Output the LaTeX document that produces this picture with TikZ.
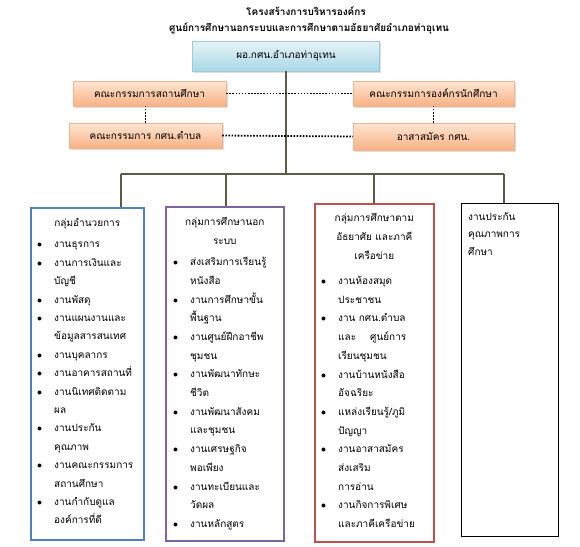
\documentclass[tikz,border=0pt]{standalone}
\usepackage{fontspec}
\setmainfont{Loma}[Script=Thai]
\usetikzlibrary{positioning, shadows}

\definecolor{linkgray}{HTML}{5E5A4A}
\definecolor{orgtop}{HTML}{FDE6D3}
\definecolor{orgbot}{HTML}{F8B184}
\definecolor{orgedge}{HTML}{EFB48C}
\definecolor{dirtop}{HTML}{E6F3F7}
\definecolor{dirbot}{HTML}{A9D8E7}
\definecolor{diredge}{HTML}{9DCADA}
\definecolor{grpblue}{HTML}{4F81BD}
\definecolor{grppurple}{HTML}{8064A2}
\definecolor{grpred}{HTML}{C0504D}

\newlength{\grpindent}
\setlength{\grpindent}{17pt}
\newcommand{\grpitem}[1]{\makebox[\grpindent][l]{$\bullet$}#1}
\newcommand{\grpcont}[1]{\hspace*{\grpindent}#1}

\tikzset{
  boardbox/.style={draw=orgedge, top color=orgtop, bottom color=orgbot,
    drop shadow={shadow xshift=1.5pt, shadow yshift=-1.5pt, opacity=0.25},
    minimum height=25pt, inner sep=0pt, font=\fontsize{10}{12}\selectfont},
  grpbox/.style={draw, line width=1.6pt, inner sep=0pt, anchor=north west},
  grptitle/.style={align=center, inner sep=0pt, font=\fontsize{10}{19}\selectfont},
  grplist/.style={align=left, inner sep=0pt, font=\fontsize{10}{18.7}\selectfont},
  link/.style={draw=linkgray, line width=1.1pt},
  dotlink/.style={line width=1.8pt, dash pattern=on 1.6pt off 1.5pt}
}

\begin{document}
\begin{tikzpicture}[x=1pt, y=-1pt]
  \useasboundingbox (0,0) rectangle (580,546);

  % Titles
  \node[font=\bfseries\fontsize{10}{12}\selectfont] (title) at (306,11) {โครงสร้างการบริหารองค์กร};
  \node[font=\bfseries\fontsize{10}{12}\selectfont] (subtitle) at (309,28) {ศูนย์การศึกษานอกระบบและการศึกษาตามอัธยาศัยอำเภอท่าอุเทน};

  % Director
  \node[draw=diredge, top color=dirtop, bottom color=dirbot,
    drop shadow={shadow xshift=1.5pt, shadow yshift=-1.5pt, opacity=0.25},
    minimum width=187pt, minimum height=30pt, font=\fontsize{10}{12}\selectfont]
    (director) at (286,56) {ผอ.กศน.อำเภอท่าอุเทน};

  % Boards
  \node[boardbox, minimum width=153pt] (ksboard) at (149.5,93.5) {คณะกรรมการสถานศึกษา};
  \node[boardbox, minimum width=153pt] (tbboard) at (145.5,135.5) {คณะกรรมการ กศน.ตำบล};
  \node[boardbox, minimum width=161pt] (stuboard) at (433.5,93.5) {คณะกรรมการองค์กรนักศึกษา};
  \node[boardbox, minimum width=161pt, minimum height=27pt] (volunteer) at (433.5,136.5) {อาสาสมัคร กศน.};

  % Main line
  \coordinate (hub) at (286,174);
  \coordinate (b1) at (121,174);
  \coordinate (b2) at (226,174);
  \coordinate (b3) at (374,174);
  \coordinate (b4) at (504,174);
  \draw[link] (director.south) -- (hub);
  \draw[link] (b1) -- (b4);

  % Dotted links
  \draw[dotlink] (ksboard.east) -- (stuboard.west);
  \draw[dotlink] (tbboard.east) -- (volunteer.west);
  \draw[dotlink] (tbboard.north) -- (tbboard.north |- ksboard.south);
  \draw[dotlink] (volunteer.north) -- (volunteer.north |- stuboard.south);

  % Groups
  \node[grpbox, draw=grpblue, minimum width=113pt, minimum height=332pt] (admin) at (30,207) {};
  \node[grpbox, draw=grppurple, minimum width=118pt, minimum height=334pt] (nonformal) at (165,206) {};
  \node[grpbox, draw=grpred, minimum width=119pt, minimum height=338pt] (informal) at (314,203) {};
  \node[grpbox, draw=black, line width=0.8pt, minimum width=97pt, minimum height=333pt] (qa) at (461,203) {};

  \draw[link] (b1) -- (b1 |- admin.north);
  \draw[link] (b2) -- (b2 |- nonformal.north);
  \draw[link] (b3) -- (b3 |- informal.north);
  \draw[link] (b4) -- (b4 |- qa.north);

  % Group texts
  \node[grptitle, below=11pt of admin.north] (admintitle) {กลุ่มอำนวยการ};
  \node[grplist, font=\fontsize{10}{18.4}\selectfont, below right=35pt and 7pt of admin.north west] (adminlist) {%
    \grpitem{งานธุรการ}\\
    \grpitem{งานการเงินและ}\\
    \grpcont{บัญชี}\\
    \grpitem{งานพัสดุ}\\
    \grpitem{งานแผนงานและ}\\
    \grpcont{ข้อมูลสารสนเทศ}\\
    \grpitem{งานบุคลากร}\\
    \grpitem{งานอาคารสถานที่}\\
    \grpitem{งานนิเทศติดตาม}\\
    \grpcont{ผล}\\
    \grpitem{งานประกัน}\\
    \grpcont{คุณภาพ}\\
    \grpitem{งานคณะกรรมการ}\\
    \grpcont{สถานศึกษา}\\
    \grpitem{งานกำกับดูแล}\\
    \grpcont{องค์การที่ดี}};

  \node[grptitle, below=11pt of nonformal.north] (nonformaltitle) {กลุ่มการศึกษานอก\\ระบบ};
  \node[grplist, below right=51pt and 8pt of nonformal.north west] (nonformallist) {%
    \grpitem{ส่งเสริมการเรียนรู้}\\
    \grpcont{หนังสือ}\\
    \grpitem{งานการศึกษาขั้น}\\
    \grpcont{พื้นฐาน}\\
    \grpitem{งานศูนย์ฝึกอาชีพ}\\
    \grpcont{ชุมชน}\\
    \grpitem{งานพัฒนาทักษะ}\\
    \grpcont{ชีวิต}\\
    \grpitem{งานพัฒนาสังคม}\\
    \grpcont{และชุมชน}\\
    \grpitem{งานเศรษฐกิจ}\\
    \grpcont{พอเพียง}\\
    \grpitem{งานทะเบียนและ}\\
    \grpcont{วัดผล}\\
    \grpitem{งานหลักสูตร}};

  \node[grptitle, below=10pt of informal.north] (informaltitle) {กลุ่มการศึกษาตาม\\อัธยาศัย และภาคี\\เครือข่าย};
  \node[grplist, below right=73pt and 7pt of informal.north west] (informallist) {%
    \grpitem{งานห้องสมุด}\\
    \grpcont{ประชาชน}\\
    \grpitem{งาน กศน.ตำบล}\\
    \grpcont{และ\hspace{14pt}ศูนย์การ}\\
    \grpcont{เรียนชุมชน}\\
    \grpitem{งานบ้านหนังสือ}\\
    \grpcont{อัจฉริยะ}\\
    \grpitem{แหล่งเรียนรู้/ภูมิ}\\
    \grpcont{ปัญญา}\\
    \grpitem{งานอาสาสมัคร}\\
    \grpcont{ส่งเสริม}\\
    \grpcont{การอ่าน}\\
    \grpitem{งานกิจการพิเศษ}\\
    \grpcont{และภาคีเครือข่าย}};

  \node[grplist, font=\fontsize{10}{17.5}\selectfont, below right=9pt and 7pt of qa.north west] (qatext) {%
    งานประกัน\\
    คุณภาพการ\\
    ศึกษา};
\end{tikzpicture}
\end{document}
